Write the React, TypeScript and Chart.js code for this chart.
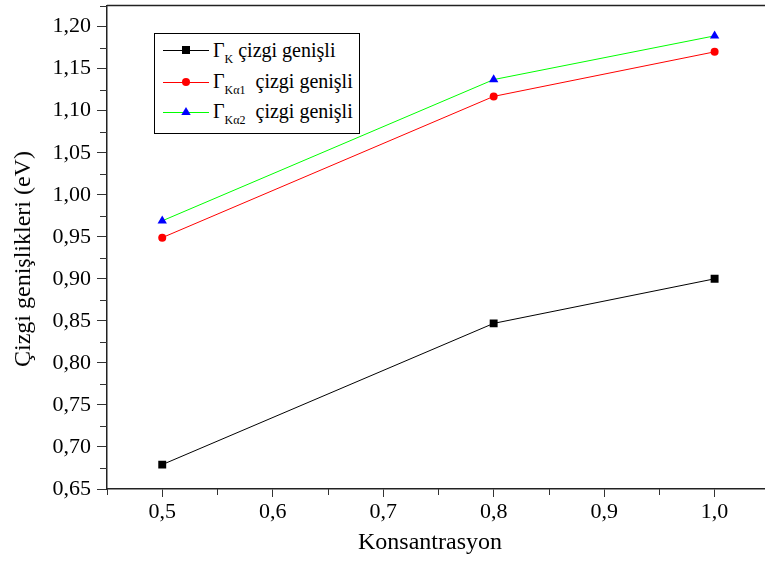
import React, { useEffect, useRef } from "react";
import { Chart, registerables } from "chart.js";

Chart.register(...registerables);

// ---- data ----
const concentrations = [0.5, 0.8, 1.0];
const gammaK = [0.679, 0.847, 0.9];
const gammaKa1 = [0.949, 1.117, 1.17];
const gammaKa2 = [0.969, 1.137, 1.189];

const xMinorTicks = [0.45, 0.55, 0.65, 0.75, 0.85, 0.95, 1.05];
const yMinorTicks = [0.675, 0.725, 0.775, 0.825, 0.875, 0.925, 0.975, 1.025, 1.075, 1.125, 1.175, 1.225];

const xTitle = "Konsantrasyon";
const yTitle = "Çizgi genişlikleri (eV)";

const legendMain = ["Γ", "Γ", "Γ"];
const legendSub = ["K", "Kα1", "Kα2"];
const legendRest = [" çizgi genişli", "  çizgi genişli", "  çizgi genişli"];

const lineColors = ["#000000", "#ff0000", "#00ff00"];
const markerColors = ["#000000", "#ff0000", "#0000ff"];
const markerStyles = ["rect", "circle", "triangle"];
const markerRadius = [5.6, 4, 5.4];

const SERIF = "'Liberation Serif', serif";

const fmt = (v: number, d: number) => Number(v).toFixed(d).replace(".", ",");

const minorTicksPlugin = {
  id: "minorTicksAndFrame",
  afterDraw(chart: any) {
    const { ctx, chartArea, scales } = chart;
    const xs = scales.x;
    const ys = scales.y;
    ctx.save();
    ctx.strokeStyle = "#333";
    ctx.lineWidth = 1;
    ctx.beginPath();
    yMinorTicks.forEach((v) => {
      const py = Math.round(ys.getPixelForValue(v)) + 0.5;
      ctx.moveTo(chartArea.left - 7, py);
      ctx.lineTo(chartArea.left, py);
    });
    xMinorTicks.forEach((v) => {
      const px = Math.round(xs.getPixelForValue(v)) + 0.5;
      ctx.moveTo(px, chartArea.bottom);
      ctx.lineTo(px, chartArea.bottom + 6);
    });
    ctx.stroke();
    // top & right frame
    ctx.strokeStyle = "#222";
    ctx.lineWidth = 1.5;
    ctx.beginPath();
    ctx.moveTo(chartArea.left, chartArea.top);
    ctx.lineTo(chartArea.right, chartArea.top);
    ctx.lineTo(chartArea.right, chartArea.bottom);
    ctx.stroke();
    ctx.restore();
  },
};

function LegendMarker({ i }: { i: number }) {
  const c = markerColors[i];
  let marker: any = null;
  if (markerStyles[i] === "rect") marker = <rect x={19} y={6} width={8} height={8} fill={c} />;
  else if (markerStyles[i] === "circle") marker = <circle cx={23} cy={10} r={4} fill={c} />;
  else marker = <polygon points="23,5 27.7,13 18.3,13" fill={c} />;
  return (
    <svg width={46} height={20} style={{ display: "block" }}>
      <line x1={0} y1={10.5} x2={46} y2={10.5} stroke={lineColors[i]} strokeWidth={1} />
      {marker}
    </svg>
  );
}

const zeroPadding = (s: any) => {
  s.paddingTop = 0;
  s.paddingBottom = 0;
  s.paddingLeft = 0;
  s.paddingRight = 0;
};

export default function App() {
  const canvasRef = useRef<HTMLCanvasElement | null>(null);

  useEffect(() => {
    const canvas = canvasRef.current;
    if (!canvas) return;
    let chart: any = null;
    let cancelled = false;
    const build = () => {
      if (cancelled) return;
      const seriesList = [gammaK, gammaKa1, gammaKa2];
      const tickFont = { family: SERIF, size: 22 };
      chart = new Chart(canvas, {
        type: "line",
        data: {
          datasets: seriesList.map((s, i) => ({
            label: legendSub[i],
            data: concentrations.map((x, j) => ({ x, y: s[j] })),
            borderColor: lineColors[i],
            backgroundColor: markerColors[i],
            borderWidth: 1,
            pointStyle: markerStyles[i] as any,
            pointRadius: markerRadius[i],
            pointBackgroundColor: markerColors[i],
            pointBorderWidth: 0,
            tension: 0,
            fill: false,
          })),
        },
        options: {
          responsive: false,
          animation: false,
          devicePixelRatio: 1,
          font: { family: SERIF },
          layout: { padding: { top: 2, right: 1, left: 0, bottom: 0 } },
          plugins: { legend: { display: false }, tooltip: { enabled: false } },
          scales: {
            x: {
              type: "linear",
              min: 0.45,
              max: 1.0505,
              afterFit: (s: any) => {
                s.height = 72;
                zeroPadding(s);
              },
              ticks: {
                stepSize: 0.1,
                includeBounds: false,
                autoSkip: false,
                maxRotation: 0,
                padding: 2,
                color: "#000",
                font: { ...tickFont },
                callback: (v: any) => fmt(v, 1),
              },
              grid: { drawOnChartArea: false, tickLength: 8, color: "#333", lineWidth: 1 },
              border: { color: "#222", width: 1.5 },
            },
            y: {
              type: "linear",
              min: 0.65,
              max: 1.225,
              afterFit: (s: any) => {
                s.width = 107;
                zeroPadding(s);
              },
              ticks: {
                stepSize: 0.05,
                includeBounds: false,
                autoSkip: false,
                padding: 6,
                color: "#000",
                font: { ...tickFont },
                callback: (v: any) => fmt(v, 2),
              },
              grid: { drawOnChartArea: false, tickLength: 10, color: "#333", lineWidth: 1 },
              border: { color: "#222", width: 1.5 },
            },
          },
        },
        plugins: [minorTicksPlugin],
      } as any);
    };
    const fontsApi: any = (document as any).fonts;
    if (fontsApi && fontsApi.load) {
      fontsApi.load("22px 'Liberation Serif'").then(build, build);
    } else {
      build();
    }
    return () => {
      cancelled = true;
      if (chart) chart.destroy();
    };
  }, []);

  const rowBaselines = [57, 88, 118];
  const rowMarkerY = [50, 82, 112];

  return (
    <div
      style={{
        position: "fixed",
        left: 0,
        top: 0,
        width: 765,
        height: 561,
        overflow: "hidden",
        background: "#fff",
        fontFamily: SERIF,
      }}
    >
      <canvas ref={canvasRef} width={776} height={561} style={{ position: "absolute", left: 0, top: 0, width: 776, height: 561 }} />
      {/* y title */}
      <div
        style={{
          position: "absolute",
          left: 22,
          top: 259,
          transform: "translate(-50%, -50%) rotate(-90deg)",
          fontSize: 24,
          lineHeight: "24px",
          whiteSpace: "nowrap",
          color: "#000",
        }}
      >
        {yTitle}
      </div>
      {/* x title */}
      <div
        style={{
          position: "absolute",
          left: 430,
          top: 529,
          transform: "translateX(-50%)",
          fontSize: 24,
          lineHeight: "24px",
          whiteSpace: "nowrap",
          color: "#000",
        }}
      >
        {xTitle}
      </div>
      {/* legend */}
      <div
        style={{
          position: "absolute",
          left: 154,
          top: 33,
          width: 204,
          height: 99,
          border: "1px solid #000",
          background: "#fff",
        }}
      />
      {legendSub.map((sub, i) => (
        <React.Fragment key={i}>
          <div style={{ position: "absolute", left: 163, top: rowMarkerY[i] - 10 }}>
            <LegendMarker i={i} />
          </div>
          <div
            style={{
              position: "absolute",
              left: 213,
              top: rowBaselines[i] - 16.75,
              fontSize: 20,
              lineHeight: "20px",
              whiteSpace: "pre",
              color: "#000",
            }}
          >
            {legendMain[i]}
            <span style={{ fontSize: 12, position: "relative", top: 6 }}>{sub}</span>
            {legendRest[i]}
          </div>
        </React.Fragment>
      ))}
    </div>
  );
}
